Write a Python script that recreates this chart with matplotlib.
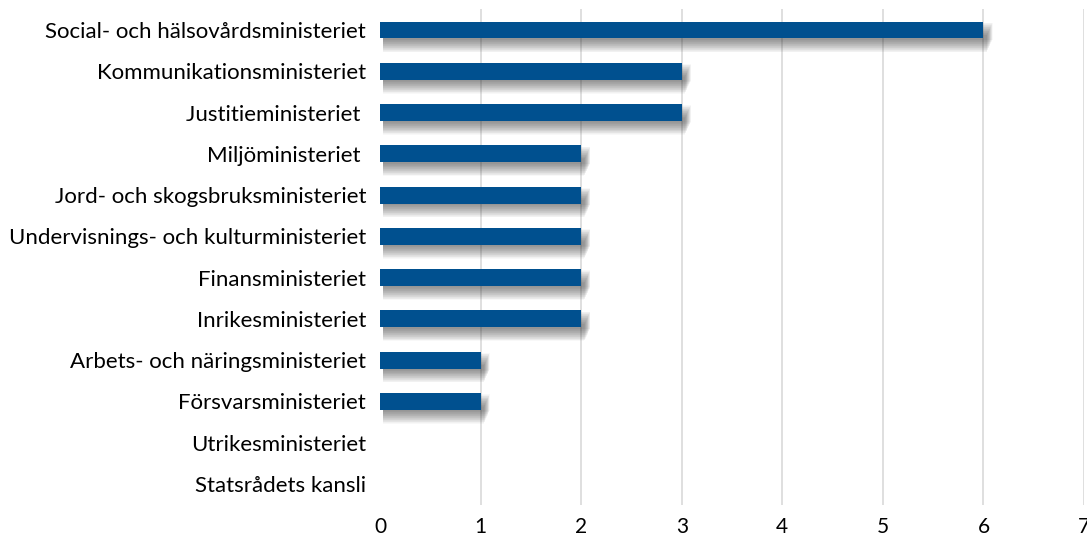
import numpy as np
import matplotlib.pyplot as plt

# data
ministries = [
    "Social- och hälsovårdsministeriet",
    "Kommunikationsministeriet",
    "Justitieministeriet ",
    "Miljöministeriet ",
    "Jord- och skogsbruksministeriet",
    "Undervisnings- och kulturministeriet",
    "Finansministeriet",
    "Inrikesministeriet",
    "Arbets- och näringsministeriet",
    "Försvarsministeriet",
    "Utrikesministeriet",
    "Statsrådets kansli",
]
counts = [6, 3, 3, 2, 2, 2, 2, 2, 1, 1, 0, 0]
x_ticks = [0, 1, 2, 3, 4, 5, 6, 7]

plt.rcParams['font.family'] = ['Lato', 'DejaVu Sans']

fig = plt.figure(figsize=(10.87, 5.39), dpi=100)
ax = fig.add_axes([0.3496, 0.0638, 0.6477, 0.9188])

y = np.arange(len(ministries))
vals = np.array(counts, dtype=float)
bar_h = 0.41

# soft drop shadow under the bars
n_layers = 20
mask = vals > 0
for i in range(n_layers):
    off = 0.03 + i * 0.016
    ext = 0.06 - i * 0.003
    ax.barh(y[mask] + off, vals[mask] + ext, height=bar_h, left=0.03,
            color="#303030", alpha=0.03, linewidth=0, zorder=2)

ax.barh(y, vals, height=bar_h, color="#00508F", linewidth=0, zorder=3)

ax.set_xlim(0, 7)
ax.set_ylim(len(ministries) - 0.5, -0.5)
ax.set_xticks(x_ticks)
ax.set_yticks(y, ministries)
ax.tick_params(axis="both", length=0, colors="#000000")
ax.tick_params(axis="x", pad=9, labelsize=15)
ax.tick_params(axis="y", pad=10, labelsize=16)
for s in ax.spines.values():
    s.set_visible(False)
for xv in x_ticks[1:]:
    ax.axvline(xv, color="#D9D9D9", linewidth=1.2, zorder=1)

fig.savefig("out.png", dpi=100)
